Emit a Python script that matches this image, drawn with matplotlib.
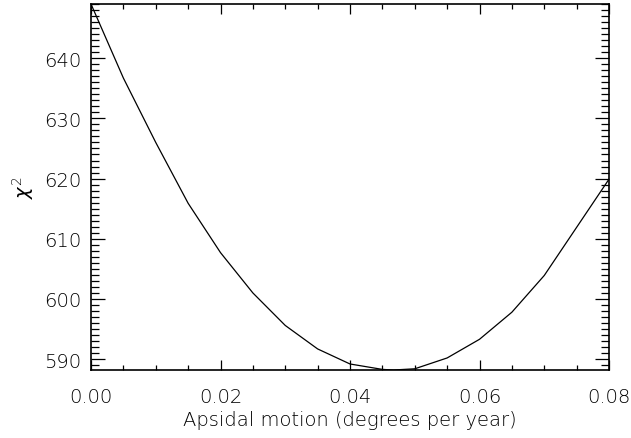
import numpy as np
import matplotlib
matplotlib.use("Agg")
import matplotlib.pyplot as plt
from matplotlib.ticker import MultipleLocator

# apsidal motion grid (deg/yr) and chi^2
rate = [0.000, 0.005, 0.010, 0.015, 0.020, 0.025, 0.030, 0.035, 0.040,
        0.045, 0.0467, 0.050, 0.055, 0.060, 0.065, 0.070, 0.075, 0.080]
chi2 = [649.0, 636.7, 626.0, 615.9, 607.7, 601.0, 595.6, 591.7, 589.2,
        588.3, 588.2, 588.4, 590.2, 593.3, 597.8, 603.9, 611.9, 619.9]

plt.rcParams['font.family'] = ['DejaVu Sans']
plt.rcParams['font.weight'] = 'light'
plt.rcParams['axes.labelweight'] = 'light'

fig = plt.figure(figsize=(6.31, 4.39), dpi=100)
ax = fig.add_axes([91/631, 1-371/439, 518/631, 366/439])
ax.plot(rate, chi2, color='black', lw=0.9)

ax.set_xlim(0, 0.08)
ax.set_ylim(min(chi2), max(chi2))

ax.xaxis.set_major_locator(MultipleLocator(0.02))
ax.xaxis.set_minor_locator(MultipleLocator(0.005))
ax.yaxis.set_major_locator(MultipleLocator(10))
ax.yaxis.set_minor_locator(MultipleLocator(1))
ax.xaxis.set_major_formatter(plt.FormatStrFormatter('%.2f'))
ax.yaxis.set_major_formatter(plt.FormatStrFormatter('%d'))

for s in ax.spines.values():
    s.set_linewidth(1.2)
ax.tick_params(which='both', direction='in', top=True, right=True,
               labelsize=14, width=0.9, color='black', labelcolor='black')
ax.tick_params(axis='x', which='major', length=7, pad=12)
ax.tick_params(axis='x', which='minor', length=3.5)
ax.tick_params(axis='y', which='major', length=10, pad=7)
ax.tick_params(axis='y', which='minor', length=5.5)

ax.set_xlabel('Apsidal motion (degrees per year)', fontsize=14,
              fontweight='light', labelpad=3)
ax.set_ylabel(r'$\chi^2$', fontsize=14, labelpad=6)

fig.savefig('out.png', dpi=100)
